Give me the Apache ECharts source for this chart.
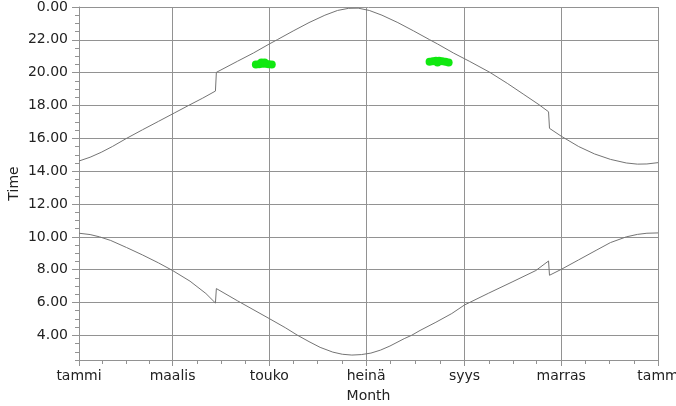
<!DOCTYPE html>
<html><head><meta charset="utf-8">
<script src="https://cdn.jsdelivr.net/npm/echarts@6/dist/echarts.min.js"></script>
<style>html,body{margin:0;padding:0;background:#fff}#c{width:676px;height:406px}</style>
</head><body><div id="c"></div><script>
// x: day of year (0 = 1 Jan), y: clock time in hours
const monthTickDays = [0, 59, 120, 181, 243, 304, 365];
const monthLabels = ['tammi', 'maalis', 'touko', 'heinä', 'syys', 'marras', 'tamm'];
const monthMinorTickDays = [14.75, 29.5, 44.25, 74.25, 89.5, 104.75, 135.25, 150.5, 165.75,
  196.5, 212, 227.5, 258.5, 273.5, 288.5, 319.25, 334.5, 349.75];
const hourTicks = [4, 6, 8, 10, 12, 14, 16, 18, 20, 22, 24];
const hourMinorTicks = [2.5, 3, 3.5, 4.5, 5, 5.5, 6.5, 7, 7.5, 8.5, 9, 9.5, 10.5, 11, 11.5,
  12.5, 13, 13.5, 14.5, 15, 15.5, 16.5, 17, 17.5, 18.5, 19, 19.5, 20.5, 21, 21.5, 22.5, 23, 23.5];

const sunsetDays  = [0, 7, 14, 21, 30, 40, 50, 60, 69, 78, 86, 86.6, 100, 110, 120, 125, 135, 145, 155, 163, 170, 176,
  183, 191, 201, 211, 221, 226, 236, 246, 259, 270, 280, 290, 296, 296.6, 304, 315, 325, 335, 345, 352, 358, 365];
const sunsetTimes = [14.62, 14.85, 15.15, 15.5, 16.0, 16.52, 17.03, 17.54, 18.0, 18.45, 18.88, 20.02, 20.7, 21.2, 21.75, 22.01, 22.54, 23.05, 23.5, 23.79, 23.92, 23.93,
  23.79, 23.5, 23.05, 22.54, 22.01, 21.75, 21.2, 20.7, 20.02, 19.35, 18.7, 18.05, 17.62, 16.61, 16.13, 15.5, 15.05, 14.72, 14.5, 14.43, 14.44, 14.52];

const sunriseDays  = [0, 7, 13, 20, 30, 40, 50, 59, 70, 80, 86, 86.6, 100, 120, 130, 137.5, 145, 152, 160, 166, 172, 178,
  184, 190, 196, 205, 209.6, 215, 225, 235, 243, 258, 273, 288, 296, 296.6, 304, 315, 326, 335, 345, 352, 358, 365];
const sunriseTimes = [10.22, 10.14, 10.0, 9.78, 9.35, 8.9, 8.42, 7.95, 7.3, 6.55, 5.97, 6.85, 6.1, 5.02, 4.47, 4.02, 3.62, 3.27, 2.98, 2.85, 2.8, 2.83,
  2.92, 3.1, 3.35, 3.8, 4.0, 4.3, 4.8, 5.33, 5.85, 6.56, 7.25, 7.95, 8.53, 7.66, 8.02, 8.6, 9.18, 9.65, 10.0, 10.15, 10.22, 10.24];

const markDays  = [111.5, 113.5, 115.5, 117.5, 119.5, 121.5, 115, 117, 221, 223, 225, 227, 229, 231, 233, 226];
const markTimes = [20.5, 20.52, 20.55, 20.55, 20.52, 20.5, 20.62, 20.62, 20.66, 20.7, 20.72, 20.72, 20.7, 20.66, 20.62, 20.62];

const pair = (xs, ys) => xs.map((x, i) => [x, ys[i]]);
const FONT = 'DejaVu Sans';
const TXT = '#222';
const GRID = '#929292';

const chart = echarts.init(document.getElementById('c'), null, {renderer: 'canvas'});
chart.setOption({
  animation: false,
  backgroundColor: '#fff',
  grid: {left: 79, right: 18, top: 7, bottom: 46, containLabel: false, outerBoundsMode: 'none'},
  xAxis: [{
    type: 'value', min: 0, max: 365,
    name: 'Month', nameLocation: 'middle', nameGap: 29, nameMoveOverlap: false,
    nameTextStyle: {fontFamily: FONT, fontSize: 14, color: TXT},
    axisLine: {show: true, onZero: false, lineStyle: {color: GRID, width: 1}},
    axisTick: {show: true, length: 6, customValues: monthTickDays, lineStyle: {color: GRID}},
    axisLabel: {show: true, customValues: monthTickDays, margin: 9, fontFamily: FONT, fontSize: 14, color: TXT,
      formatter: v => monthLabels[monthTickDays.indexOf(Math.round(v))]},
    splitLine: {show: true, lineStyle: {color: GRID, width: 1}}
  }, {
    type: 'value', min: 0, max: 365, position: 'bottom',
    axisLine: {show: false},
    axisTick: {show: true, length: 4, customValues: monthMinorTickDays, lineStyle: {color: GRID}},
    axisLabel: {show: false},
    splitLine: {show: false}
  }],
  yAxis: [{
    type: 'value', min: 2.5, max: 24,
    name: 'Time', nameLocation: 'middle', nameGap: 58, nameRotate: 90, nameMoveOverlap: false,
    nameTextStyle: {fontFamily: FONT, fontSize: 14, color: TXT},
    axisLine: {show: true, onZero: false, lineStyle: {color: GRID, width: 1}},
    axisTick: {show: true, length: 7, customValues: hourTicks, lineStyle: {color: GRID}},
    axisLabel: {show: true, customValues: hourTicks, margin: 11, fontFamily: FONT, fontSize: 14, color: TXT,
      formatter: v => (v >= 24 ? 0 : v).toFixed(2)},
    splitLine: {show: true, lineStyle: {color: GRID, width: 1}}
  }, {
    type: 'value', min: 2.5, max: 24, position: 'left',
    axisLine: {show: false},
    axisTick: {show: true, length: 4, customValues: hourMinorTicks, lineStyle: {color: GRID}},
    axisLabel: {show: false},
    splitLine: {show: false}
  }],
  series: [{
    type: 'line', name: 'sunset', data: pair(sunsetDays, sunsetTimes),
    showSymbol: false, symbol: 'none', lineStyle: {color: '#747474', width: 1}, smooth: false
  }, {
    type: 'line', name: 'sunrise', data: pair(sunriseDays, sunriseTimes),
    showSymbol: false, symbol: 'none', lineStyle: {color: '#747474', width: 1}, smooth: false
  }, {
    type: 'scatter', name: 'marks', data: pair(markDays, markTimes),
    symbol: 'circle', symbolSize: 8, itemStyle: {color: '#10e810', opacity: 1}
  }]
});
</script></body></html>
